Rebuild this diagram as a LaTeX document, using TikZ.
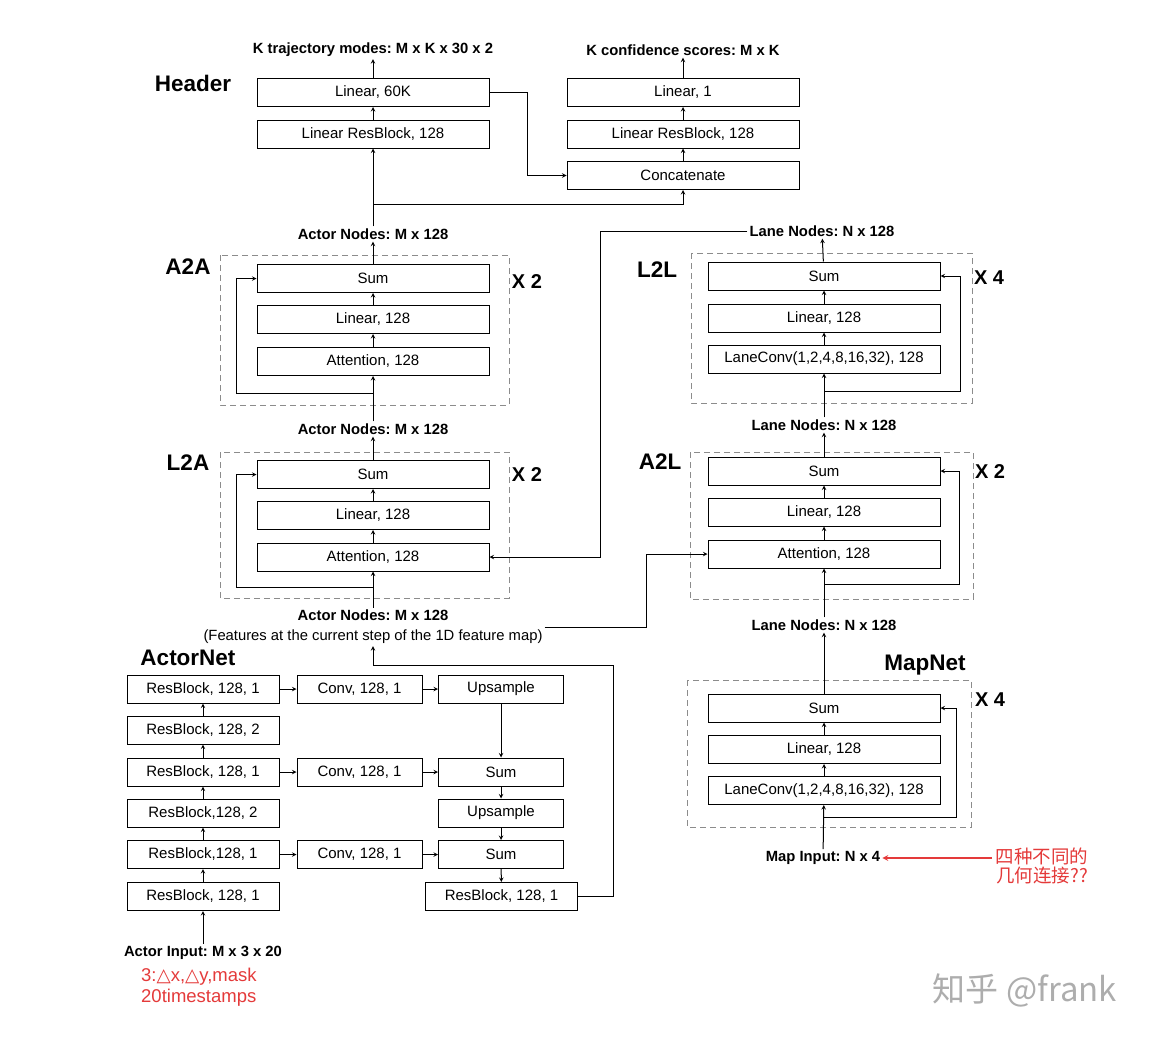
\documentclass[tikz,border=0pt]{standalone}
\usepackage{fontspec}
\setmainfont{Liberation Sans}
\newfontfamily\cjk{Noto Sans CJK SC}
\newfontfamily\symf{DejaVu Sans}
\usepackage{tikz}
\usetikzlibrary{arrows}
\frenchspacing

\definecolor{notered}{RGB}{228,58,58}
\definecolor{dashgray}{RGB}{140,140,140}

\tikzset{
  blk/.style={draw, line width=1pt, minimum height=28pt, inner sep=0pt,
    font=\fontsize{15}{17}\selectfont},
  wide/.style={blk, minimum width=232pt},
  colbox/.style={blk, minimum width=152pt},
  midbox/.style={blk, minimum width=125pt},
  lbl/.style={font=\bfseries\fontsize{14.8}{17}\selectfont, inner sep=2pt},
  title/.style={font=\bfseries\fontsize{22.5}{26}\selectfont},
  rep/.style={font=\bfseries\fontsize{20}{24}\selectfont},
  group/.style={draw=dashgray, dashed, dash pattern=on 6pt off 4pt, line width=1pt},
  link/.style={->, >=stealth, line width=1pt}
}

\begin{document}
\begin{tikzpicture}[x=1pt,y=-1pt]
  \path[use as bounding box] (0,0) rectangle (1150,1036);

  % header
  \node[title] (hdr) at (193,83) {Header};
  \node[lbl] (traj) at (373,50) {K trajectory modes: M x K x 30 x 2};
  \node[lbl] (conf) at (683,50) {K confidence scores: M x K};
  \node[wide] (lin60) at (373,92.5) {Linear, 60K};
  \node[wide] (hres) at (373,134) {Linear ResBlock, 128};
  \node[wide] (lin1) at (683,92.5) {Linear, 1};
  \node[wide] (cres) at (683,134) {Linear ResBlock, 128};
  \node[wide] (concat) at (683,175.5) {Concatenate};
  \coordinate (split) at (373,204);

  % A2A
  \node[lbl] (a2aout) at (373,234) {Actor Nodes: M x 128};
  \draw[group] (220,255) rectangle (509,405);
  \node[title] (a2aname) at (188,267) {A2A};
  \node[rep] (a2arep) at (527,282) {X 2};
  \node[wide] (a2asum) at (373,278.5) {Sum};
  \node[wide] (a2alin) at (373,319.5) {Linear, 128};
  \node[wide] (a2aatt) at (373,361.5) {Attention, 128};
  \coordinate (a2ares) at (373,393);

  % L2A
  \node[lbl] (l2aout) at (373,429) {Actor Nodes: M x 128};
  \draw[group] (220,452) rectangle (509,598);
  \node[title] (l2aname) at (188,463) {L2A};
  \node[rep] (l2arep) at (527,475) {X 2};
  \node[wide] (l2asum) at (373,474.5) {Sum};
  \node[wide] (l2alin) at (373,515.5) {Linear, 128};
  \node[wide] (l2aatt) at (373,557) {Attention, 128};
  \coordinate (l2ares) at (373,587);
  \node[align=center, inner sep=2pt, font=\fontsize{14.8}{20}\selectfont] (acin) at (373,627)
    {\textbf{Actor Nodes: M x 128}\\(Features at the current step of the 1D feature map)};

  % L2L
  \node[lbl] (l2lout) at (822,231) {Lane Nodes: N x 128};
  \draw[group] (691,253) rectangle (972,403);
  \node[title] (l2lname) at (657,270) {L2L};
  \node[rep] (l2lrep) at (989,278) {X 4};
  \node[wide] (l2lsum) at (824,276) {Sum};
  \node[wide] (l2llin) at (824,318) {Linear, 128};
  \node[wide] (l2lconv) at (824,359) {LaneConv(1,2,4,8,16,32), 128};
  \coordinate (l2lres) at (824,391);
  \coordinate (lanebus) at (600,231);

  % A2L
  \node[lbl] (a2lout) at (824,425) {Lane Nodes: N x 128};
  \draw[group] (690,452) rectangle (973,599);
  \node[title] (a2lname) at (660,462) {A2L};
  \node[rep] (a2lrep) at (990,472) {X 2};
  \node[wide] (a2lsum) at (824,471) {Sum};
  \node[wide] (a2llin) at (824,512) {Linear, 128};
  \node[wide] (a2latt) at (824,554) {Attention, 128};
  \coordinate (a2lres) at (824,584);
  \node[lbl] (a2lin) at (824,625) {Lane Nodes: N x 128};
  \coordinate (actbus) at (646,627);

  % MapNet
  \node[title] (mapname) at (925,665) {MapNet};
  \draw[group] (687,680) rectangle (971,827);
  \node[rep] (maprep) at (990,700) {X 4};
  \node[wide] (mapsum) at (824,708) {Sum};
  \node[wide] (maplin) at (824,749.5) {Linear, 128};
  \node[wide] (mapconv) at (824,790.5) {LaneConv(1,2,4,8,16,32), 128};
  \coordinate (mapres) at (824,817);
  \node[lbl] (mapin) at (823,858) {Map Input: N x 4};
  \node[align=center, text=notered, font=\cjk\fontsize{18.5}{19}\selectfont] (mapnote) at (1042,866)
    {四种不同的\\几何连接??};

  % ActorNet
  \node[title] (actname) at (188,658) {ActorNet};
  \node[colbox] (r1) at (203,689) {ResBlock, 128, 1};
  \node[colbox] (r2) at (203,730) {ResBlock, 128, 2};
  \node[colbox] (r3) at (203,772) {ResBlock, 128, 1};
  \node[colbox] (r4) at (203,813) {ResBlock,128, 2};
  \node[colbox] (r5) at (203,854.5) {ResBlock,128, 1};
  \node[colbox] (r6) at (203,896.5) {ResBlock, 128, 1};
  \node[midbox] (c1) at (359.5,689) {Conv, 128, 1};
  \node[midbox] (c3) at (359.5,772) {Conv, 128, 1};
  \node[midbox] (c5) at (359.5,854.5) {Conv, 128, 1};
  \node[midbox] (u1) at (501,689) {Upsample};
  \node[midbox] (s3) at (501,772) {Sum};
  \node[midbox] (u4) at (501,813) {Upsample};
  \node[midbox] (s5) at (501,854.5) {Sum};
  \node[colbox] (rb) at (501.5,896.5) {ResBlock, 128, 1};
  \coordinate (outbus) at (613,665);
  \node[lbl] (actin) at (203,953) {Actor Input: M x 3 x 20};
  \node[anchor=west, text=notered, inner sep=0pt, font=\fontsize{18.5}{21}\selectfont, align=left] (actnote) at (141,987)
    {3:{\symf △}x,{\symf △}y,mask\\20timestamps};

  \node[text=black!32, font=\cjk\fontsize{33}{33}\selectfont] (mark) at (1025,990) {知乎 @frank};

  % connectors
  \draw[link] (lin60) -- (traj);
  \draw[link] (hres) -- (lin60);
  \draw[link] (lin1) -- (conf);
  \draw[link] (cres) -- (lin1);
  \draw[link] (concat) -- (cres);
  \draw[link] (lin60.east) -- ++(38,0) |- (concat.west);
  \draw[link] (a2aout) -- (hres);
  \draw[link] (split) -| (concat.south);

  \draw[link] (a2asum) -- (a2aout);
  \draw[link] (a2alin) -- (a2asum);
  \draw[link] (a2aatt) -- (a2alin);
  \draw[link] (l2aout) -- (a2aatt);
  \draw[link] (a2ares) -- ++(-137,0) |- (a2asum.west);

  \draw[link] (l2asum) -- (l2aout);
  \draw[link] (l2alin) -- (l2asum);
  \draw[link] (l2aatt) -- (l2alin);
  \draw[link] (acin) -- (l2aatt);
  \draw[link] (l2ares) -- ++(-137,0) |- (l2asum.west);
  \draw[link] (l2lout.west) -- (lanebus) |- (l2aatt.east);

  \draw[link] (l2lsum) -- (l2lout);
  \draw[link] (l2llin) -- (l2lsum);
  \draw[link] (l2lconv) -- (l2llin);
  \draw[link] (a2lout) -- (l2lconv);
  \draw[link] (l2lres) -- ++(136,0) |- (l2lsum.east);

  \draw[link] (a2lsum) -- (a2lout);
  \draw[link] (a2llin) -- (a2lsum);
  \draw[link] (a2latt) -- (a2llin);
  \draw[link] (a2lin) -- (a2latt);
  \draw[link] (a2lres) -- ++(135,0) |- (a2lsum.east);
  \draw[link] (acin.east |- actbus) -- (actbus) |- (a2latt.west);

  \draw[link] (mapsum) -- (a2lin);
  \draw[link] (maplin) -- (mapsum);
  \draw[link] (mapconv) -- (maplin);
  \draw[link] (mapin) -- (mapconv);
  \draw[link] (mapres) -- ++(132,0) |- (mapsum.east);
  \draw[->, >=stealth, draw=notered, line width=1.6pt] (mapnote.west |- mapin) -- (mapin.east);

  \draw[link] (actin) -- (r6);
  \draw[link] (r6) -- (r5);
  \draw[link] (r5) -- (r4);
  \draw[link] (r4) -- (r3);
  \draw[link] (r3) -- (r2);
  \draw[link] (r2) -- (r1);
  \draw[link] (r1) -- (c1);
  \draw[link] (c1) -- (u1);
  \draw[link] (r3) -- (c3);
  \draw[link] (c3) -- (s3);
  \draw[link] (r5) -- (c5);
  \draw[link] (c5) -- (s5);
  \draw[link] (u1) -- (s3);
  \draw[link] (s3) -- (u4);
  \draw[link] (u4) -- (s5);
  \draw[link] (s5) -- (rb);
  \draw[link] (rb.east) -| (outbus) -| (acin.south);
\end{tikzpicture}
\end{document}
